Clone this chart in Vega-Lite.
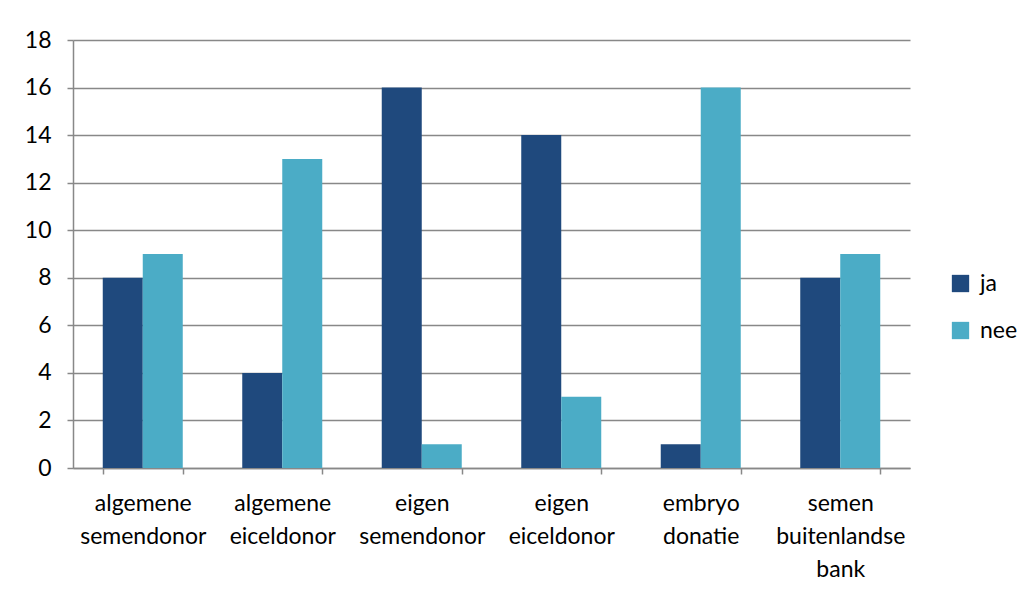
{
  "$schema": "https://vega.github.io/schema/vega-lite/v6.json",
  "width": 837,
  "height": 428,
  "autosize": {"type": "none"},
  "padding": {"left": 73, "top": 40, "right": 115, "bottom": 121},
  "background": "white",
  "config": {
    "view": {"stroke": null},
    "font": "Lato",
    "axis": {"labelFont": "Lato", "labelColor": "#000000", "domainColor": "#888888", "tickColor": "#888888", "gridColor": "#888888", "domainWidth": 1.5, "tickWidth": 1.5, "gridWidth": 1.5}
  },
  "data": {
    "values": [
      {"cat": "algemene semendonor", "serie": "ja", "value": 8},
      {"cat": "algemene semendonor", "serie": "nee", "value": 9},
      {"cat": "algemene eiceldonor", "serie": "ja", "value": 4},
      {"cat": "algemene eiceldonor", "serie": "nee", "value": 13},
      {"cat": "eigen semendonor", "serie": "ja", "value": 16},
      {"cat": "eigen semendonor", "serie": "nee", "value": 1},
      {"cat": "eigen eiceldonor", "serie": "ja", "value": 14},
      {"cat": "eigen eiceldonor", "serie": "nee", "value": 3},
      {"cat": "embryo donatie", "serie": "ja", "value": 1},
      {"cat": "embryo donatie", "serie": "nee", "value": 16},
      {"cat": "semen buitenlandse bank", "serie": "ja", "value": 8},
      {"cat": "semen buitenlandse bank", "serie": "nee", "value": 9}
    ]
  },
  "mark": {"type": "bar"},
  "encoding": {
    "x": {
      "field": "cat",
      "type": "nominal",
      "sort": null,
      "scale": {"paddingInner": 0.4265, "paddingOuter": 0.2133},
      "axis": {
        "title": null,
        "labelAngle": 0,
        "labelExpr": "split(datum.label, ' ')",
        "labelFontSize": 23,
        "labelLineHeight": 33,
        "labelPadding": 18,
        "labelBaseline": "top",
        "tickBand": "extent",
        "tickSize": 6,
        "grid": false,
        "labelLimit": 200
      }
    },
    "xOffset": {"field": "serie", "type": "nominal", "sort": ["ja", "nee"]},
    "y": {
      "field": "value",
      "type": "quantitative",
      "scale": {"domain": [0, 18], "nice": false},
      "axis": {
        "title": null,
        "values": [0, 2, 4, 6, 8, 10, 12, 14, 16, 18],
        "labelFontSize": 23,
        "labelPadding": 16,
        "tickSize": 6,
        "grid": true
      }
    },
    "color": {
      "field": "serie",
      "type": "nominal",
      "scale": {"domain": ["ja", "nee"], "range": ["#1F497D", "#4BACC6"]},
      "legend": {
        "title": null,
        "orient": "none",
        "legendX": 876,
        "legendY": 232,
        "symbolType": "square",
        "symbolSize": 300,
        "symbolStrokeWidth": 0,
        "labelFontSize": 23,
        "labelFont": "Lato",
        "labelColor": "#000000",
        "rowPadding": 23,
        "labelOffset": 8
      }
    }
  }
}
